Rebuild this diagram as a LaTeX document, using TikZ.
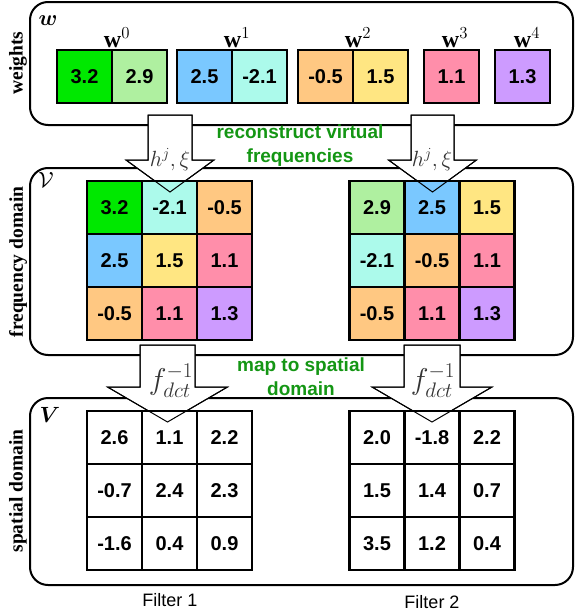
\RequirePackage{fix-cm}
\documentclass[tikz,border=0pt]{standalone}
\usepackage{fontspec}
\setmainfont{Liberation Serif}
\setsansfont{Liberation Sans}
\usepackage{amsmath,bm}
\definecolor{wgreen}{RGB}{0,232,0}
\definecolor{wlgreen}{RGB}{175,240,160}
\definecolor{wblue}{RGB}{122,200,255}
\definecolor{wcyan}{RGB}{172,250,235}
\definecolor{worange}{RGB}{255,200,130}
\definecolor{wyellow}{RGB}{255,230,130}
\definecolor{wpink}{RGB}{255,142,170}
\definecolor{wpurple}{RGB}{205,155,255}
\definecolor{tgreen}{RGB}{20,150,20}
\tikzset{
  cell/.style={draw=black, line width=2.5pt, minimum width=55pt, minimum height=53pt,
    inner sep=0pt, outer sep=0pt, anchor=north west, font=\fontsize{20}{24}\sffamily\bfseries},
  region/.style={draw=black, line width=2pt, rounded corners=18pt, anchor=north west,
    inner sep=0pt, outer sep=0pt},
  sidelabel/.style={rotate=90, font=\fontsize{19.5}{22}\bfseries},
  greentext/.style={text=tgreen, font=\fontsize{19}{24}\sffamily\bfseries, align=center},
  arrfill/.style={fill=white, draw=black, line width=1pt},
  arrline/.style={draw=black, line width=1pt},
  arrlabel/.style={text=black!80, font=\fontsize{22}{26}\selectfont},
  mathlabel/.style={font=\fontsize{22}{26}\selectfont},
  filterlabel/.style={font=\fontsize{18}{22}\sffamily},
}
\newcommand{\blockarr}[7]{%
  \path[#1] (#2-#4,#3) -- (#2+#4,#3) -- (#2+#4,#5) -- (#2+#6,#5) -- (#2,#7)
    -- (#2-#6,#5) -- (#2-#4,#5) -- cycle;}
\newcommand{\cellgrid}[4]{%
  \foreach \v/\c [count=\k from 0] in {#4} {
    \pgfmathtruncatemacro\rr{int(\k/3)}
    \pgfmathtruncatemacro\ccol{mod(\k,3)}
    \node[cell, fill=\c] (#1-\k) at (#2+55*\ccol, #3+53*\rr) {\v};
  }}
\begin{document}
\begin{tikzpicture}[x=1pt,y=-1pt]
\useasboundingbox (0,0) rectangle (574,616);
% regions
\node[region, minimum width=543pt, minimum height=123pt] (boxW) at (30,2) {};
\node[region, minimum width=543pt, minimum height=187pt] (boxF) at (30,168) {};
\node[region, minimum width=543pt, minimum height=187pt] (boxS) at (30,398) {};
% side labels
\node[sidelabel] (lblW) at (18,63) {weights};
\node[sidelabel] (lblF) at (18,262) {frequency domain};
\node[sidelabel] (lblS) at (18,491) {spatial domain};
% region symbols
\node[mathlabel] (symW) at (48,21) {$\bm{w}$};
\node[mathlabel] (symF) at (46,180) {$\mathcal{V}$};
\node[mathlabel] (symS) at (50,415) {$\bm{V}$};
% weights
\node[cell, fill=wgreen] (w0a) at (57,50) {3.2};
\node[cell, fill=wlgreen] (w0b) at (112,50) {2.9};
\node[cell, fill=wblue] (w1a) at (177,50) {2.5};
\node[cell, fill=wcyan] (w1b) at (232,50) {-2.1};
\node[cell, fill=worange] (w2a) at (298,50) {-0.5};
\node[cell, fill=wyellow] (w2b) at (353,50) {1.5};
\node[cell, fill=wpink] (w3) at (424,50) {1.1};
\node[cell, fill=wpurple] (w4) at (495,50) {1.3};
\node[font=\fontsize{24}{28}\selectfont, anchor=base] (lw0) at (117,47) {$\mathbf{w}^0$};
\node[font=\fontsize{24}{28}\selectfont, anchor=base] (lw1) at (237,47) {$\mathbf{w}^1$};
\node[font=\fontsize{24}{28}\selectfont, anchor=base] (lw2) at (358,47) {$\mathbf{w}^2$};
\node[font=\fontsize{24}{28}\selectfont, anchor=base] (lw3) at (455,47) {$\mathbf{w}^3$};
\node[font=\fontsize{24}{28}\selectfont, anchor=base] (lw4) at (527,47) {$\mathbf{w}^4$};
% arrows (fill)
\blockarr{arrfill}{170}{115}{22}{160}{44}{192}
\blockarr{arrfill}{432.5}{115}{21.5}{160}{44}{192}
\blockarr{arrfill}{167.5}{345}{27.5}{387}{60}{422}
\blockarr{arrfill}{432}{345}{28}{387}{60}{422}
% grids
\cellgrid{fL}{87}{181}{3.2/wgreen,-2.1/wcyan,-0.5/worange,2.5/wblue,1.5/wyellow,1.1/wpink,-0.5/worange,1.1/wpink,1.3/wpurple}
\cellgrid{fR}{349.5}{181}{2.9/wlgreen,2.5/wblue,1.5/wyellow,-2.1/wcyan,-0.5/worange,1.1/wpink,-0.5/worange,1.1/wpink,1.3/wpurple}
\cellgrid{sL}{87}{411}{2.6/white,1.1/white,2.2/white,-0.7/white,2.4/white,2.3/white,-1.6/white,0.4/white,0.9/white}
\cellgrid{sR}{349.5}{411}{2.0/white,-1.8/white,2.2/white,1.5/white,1.4/white,0.7/white,3.5/white,1.2/white,0.4/white}
% arrows (outline over grids)
\blockarr{arrline}{170}{115}{22}{160}{44}{192}
\blockarr{arrline}{432.5}{115}{21.5}{160}{44}{192}
\blockarr{arrline}{167.5}{345}{27.5}{387}{60}{422}
\blockarr{arrline}{432}{345}{28}{387}{60}{422}
% arrow labels
\node[arrlabel] (a1l) at (170,160) {$h^j,\xi$};
\node[arrlabel] (a1r) at (432,160) {$h^j,\xi$};
\node[arrlabel, font=\fontsize{30}{34}\selectfont] (a2l) at (171,381) {$f_{dct}^{-1}$};
\node[arrlabel, font=\fontsize{30}{34}\selectfont] (a2r) at (433,381) {$f_{dct}^{-1}$};
% green texts
\node[greentext] (g1) at (300,146) {reconstruct virtual\\frequencies};
\node[greentext] (g2) at (301,377) {map to spatial\\domain};
% filter labels
\node[filterlabel] (flt1) at (170,600) {Filter 1};
\node[filterlabel] (flt2) at (432,602) {Filter 2};
\end{tikzpicture}
\end{document}
